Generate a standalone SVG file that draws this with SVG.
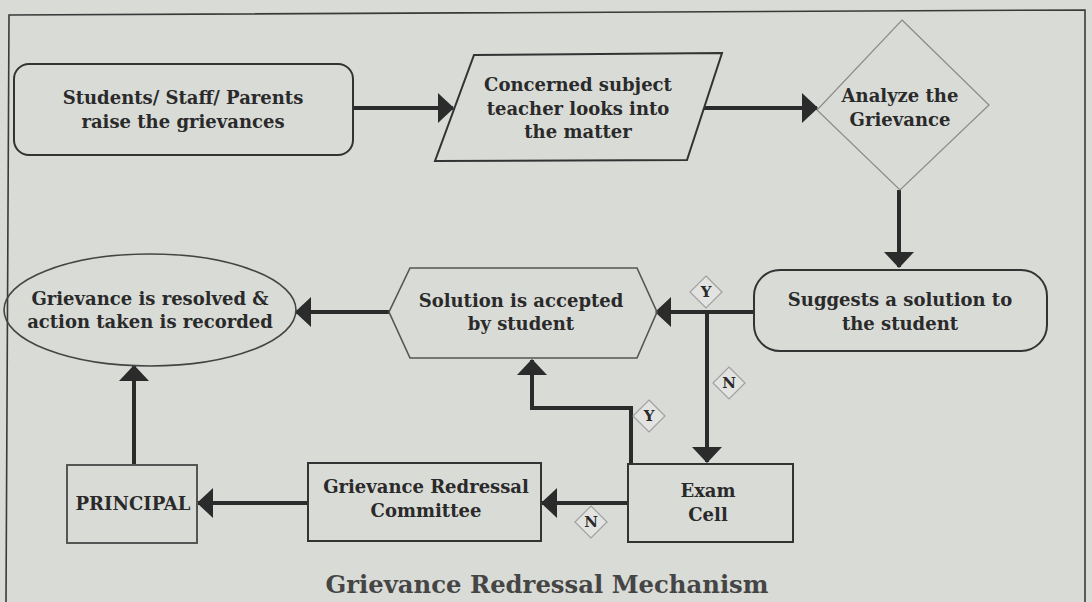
<svg xmlns="http://www.w3.org/2000/svg" width="1092" height="602" viewBox="0 0 1092 602">
<defs>
<style>
.bg{fill:#d9dbd7}
.frame{fill:none;stroke:#3a3a3a;stroke-width:1.6}
.box{fill:none;stroke:#333;stroke-width:2}
.soft{fill:none;stroke:#8a8a8a;stroke-width:1.2}
.hex{fill:none;stroke:#555;stroke-width:1.6}
.t{font-family:"DejaVu Serif","Liberation Serif",serif;font-weight:bold;font-size:18px;fill:#2a2a2a;text-anchor:middle}
.lbl{font-family:"DejaVu Serif","Liberation Serif",serif;font-weight:bold;font-size:15px;fill:#2a2a2a;text-anchor:middle}
.ttl{font-family:"DejaVu Serif","Liberation Serif",serif;font-weight:bold;font-size:24px;fill:#454545;text-anchor:middle}
.c{fill:none;stroke:#2b2b2b;stroke-width:4}
.ld{fill:#e3e4e1;stroke:#a0a0a0;stroke-width:1.2}
</style>
<marker id="ah" viewBox="0 0 16 30" refX="15" refY="15" markerWidth="16" markerHeight="30" markerUnits="userSpaceOnUse" orient="auto">
<path d="M0,0 L16,15 L0,30 Z" fill="#2b2b2b"/>
</marker>
</defs>
<rect class="bg" x="0" y="0" width="1092" height="602"/>
<polyline class="frame" points="6,602 9,15 1085,10 1085,602"/>

<g id="connectors">
<line class="c" x1="353" y1="108" x2="453" y2="108" marker-end="url(#ah)"/>
<line class="c" x1="704" y1="108" x2="817" y2="108" marker-end="url(#ah)"/>
<line class="c" x1="899" y1="190" x2="899" y2="267" marker-end="url(#ah)"/>
<line class="c" x1="754" y1="312" x2="656" y2="312" marker-end="url(#ah)"/>
<line class="c" x1="707" y1="312" x2="707" y2="462" marker-end="url(#ah)"/>
<line class="c" x1="389" y1="312" x2="296" y2="312" marker-end="url(#ah)"/>
<polyline class="c" points="631,464 631,408 532,408 532,360" marker-end="url(#ah)"/>
<line class="c" x1="628" y1="503" x2="542" y2="503" marker-end="url(#ah)"/>
<line class="c" x1="308" y1="503" x2="198" y2="503" marker-end="url(#ah)"/>
<line class="c" x1="134" y1="465" x2="134" y2="366" marker-end="url(#ah)"/>
</g>

<g id="lbl-y1"><polygon class="ld" points="706,276 722,292 706,308 690,292"/><text class="lbl" x="706" y="297">Y</text></g>
<g id="lbl-n1"><polygon class="ld" points="729,367 745,383 729,399 713,383"/><text class="lbl" x="729" y="388">N</text></g>
<g id="lbl-y2"><polygon class="ld" points="649,400 665,416 649,432 633,416"/><text class="lbl" x="649" y="421">Y</text></g>
<g id="lbl-n2"><polygon class="ld" points="591,506 607,522 591,538 575,522"/><text class="lbl" x="591" y="527">N</text></g>

<g id="n-raise">
<rect class="box" x="14" y="64" width="339" height="91" rx="15"/>
<text class="t" x="183" y="104">Students/ Staff/ Parents</text>
<text class="t" x="183" y="128">raise the grievances</text>
</g>

<g id="n-teacher">
<polygon class="box" points="474,55 722,53 687,160 435,161"/>
<text class="t" x="578" y="91">Concerned subject</text>
<text class="t" x="578" y="115">teacher looks into</text>
<text class="t" x="578" y="138">the matter</text>
</g>

<g id="n-analyze">
<polygon class="soft" points="902,20 989,105 900,190 817,110"/>
<text class="t" x="900" y="102">Analyze the</text>
<text class="t" x="900" y="126">Grievance</text>
</g>

<g id="n-suggest">
<rect class="box" x="754" y="270" width="293" height="81" rx="26"/>
<text class="t" x="900" y="306">Suggests a solution to</text>
<text class="t" x="900" y="330">the student</text>
</g>

<g id="n-accepted">
<polygon class="hex" points="410,268 637,268 657,312 637,358 410,358 389,312"/>
<text class="t" x="521" y="307">Solution is accepted</text>
<text class="t" x="521" y="330">by student</text>
</g>

<g id="n-resolved">
<ellipse class="box" cx="150" cy="310" rx="146" ry="56" style="stroke:#444;stroke-width:1.6"/>
<text class="t" x="150" y="305">Grievance is resolved &amp;</text>
<text class="t" x="150" y="328">action taken is recorded</text>
</g>

<g id="n-principal">
<rect class="box" x="67" y="465" width="130" height="78" style="stroke:#555"/>
<text class="t" x="133" y="510">PRINCIPAL</text>
</g>

<g id="n-committee">
<rect class="box" x="308" y="463" width="233" height="78"/>
<text class="t" x="426" y="493">Grievance Redressal</text>
<text class="t" x="426" y="517">Committee</text>
</g>

<g id="n-exam">
<rect class="box" x="628" y="464" width="165" height="78"/>
<text class="t" x="708" y="497">Exam</text>
<text class="t" x="708" y="521">Cell</text>
</g>

<text class="ttl" x="547" y="593" textLength="443" lengthAdjust="spacingAndGlyphs">Grievance Redressal Mechanism</text>
</svg>
